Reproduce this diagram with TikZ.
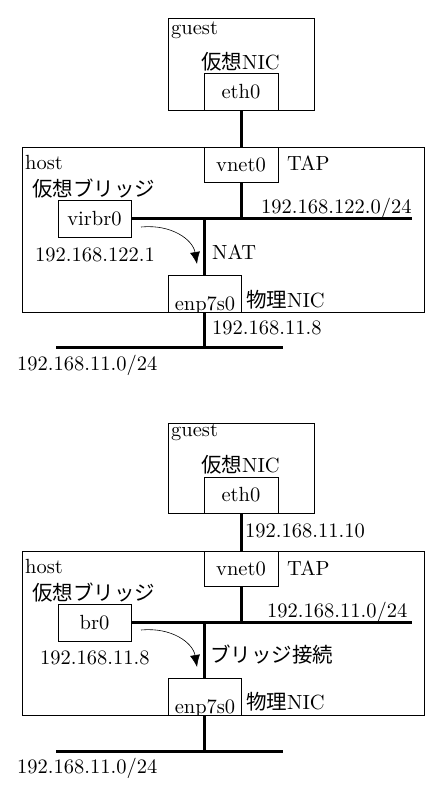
\documentclass[tikz,border=0pt]{standalone}
\usepackage{fontspec}
\setmainfont{lmroman10-regular}[Extension=.otf]
\newfontfamily\jp{Noto Sans CJK JP}
\usetikzlibrary{arrows.meta}
\tikzset{
  lbl/.style={inner sep=0pt, font=\fontsize{20.5}{24}\selectfont},
  boxnode/.style={draw, line width=0.8pt, inner sep=0pt, font=\fontsize{20.5}{24}\selectfont},
  wire/.style={line width=3pt},
  flow/.style={line width=0.6pt, -{Latex[length=12pt,width=10pt]}}
}
\begin{document}
\begin{tikzpicture}[x=1pt,y=-1pt]
\useasboundingbox (0,0) rectangle (445,786);
% ================= top =================
\node[boxnode, minimum width=146pt, minimum height=92pt] (guestA) at (241,64) {};
\node[boxnode, minimum width=402pt, minimum height=165pt] (hostA) at (223,229.5) {};
\node[boxnode, minimum width=74pt, minimum height=37pt] (ethA) at (241,91.5) {eth0};
\node[boxnode, minimum width=74pt, minimum height=35pt] (vnetA) at (241,164.5) {vnet0};
\node[boxnode, minimum width=73pt, minimum height=37pt] (virA) at (94.5,218.5) {virbr0};
\node[boxnode, minimum width=73pt, minimum height=37pt] (enpA) at (204.5,293.5) {};
\begin{scope}
\clip (enpA.south west) rectangle (enpA.north east);
\node[lbl, anchor=base] (enpAt) at (205,310.5) {enp7s0};
\end{scope}
\coordinate (busA) at (412,220);
\coordinate (lanAL) at (56,347);
\coordinate (lanAR) at (283,347);
\draw[wire] (ethA.south) -- (vnetA.north);
\draw[wire] (vnetA.south) -- (vnetA.south |- busA);
\draw[wire] (virA.east) -- (virA.east -| busA);
\draw[wire] (enpA.north |- busA) -- (enpA.north);
\draw[wire] (enpA.south) -- (enpA.south |- lanAL);
\draw[wire] (lanAL) -- (lanAR);
\coordinate (arA1) at (141,227);
\coordinate (arA2) at (197,264);
\draw[flow] (arA1) .. controls (172,224) and (193,240) .. (arA2);
\node[lbl, anchor=west] (gA) at (171,30) {guest};
\node[lbl] (vnicA) at (240.5,62) {{\jp 仮想}NIC};
\node[lbl, anchor=west] (hA) at (25,163) {host};
\node[lbl, anchor=west] (tapA) at (287,163) {TAP};
\node[lbl, anchor=west] (vbA) at (32,189) {\jp 仮想ブリッジ};
\node[lbl, anchor=west] (netA) at (261,208) {192.168.122.0/24};
\node[lbl, anchor=west] (ipvA) at (35,255) {192.168.122.1};
\node[lbl, anchor=west] (natA) at (212,252) {NAT};
\node[lbl, anchor=west] (pnA) at (246,300) {{\jp 物理}NIC};
\node[lbl, anchor=west] (ipeA) at (212,328) {192.168.11.8};
\node[lbl, anchor=west] (lanAt) at (17,365) {192.168.11.0/24};
% ================= bottom =================
\node[boxnode, minimum width=146pt, minimum height=90pt] (guestB) at (241,468) {};
\node[boxnode, minimum width=402pt, minimum height=164pt] (hostB) at (223,633) {};
\node[boxnode, minimum width=74pt, minimum height=36pt] (ethB) at (241,495) {eth0};
\node[boxnode, minimum width=74pt, minimum height=35pt] (vnetB) at (241,568.5) {vnet0};
\node[boxnode, minimum width=73pt, minimum height=37pt] (brB) at (94.5,622.5) {br0};
\node[boxnode, minimum width=73pt, minimum height=37pt] (enpB) at (204.5,696.5) {};
\begin{scope}
\clip (enpB.south west) rectangle (enpB.north east);
\node[lbl, anchor=base] (enpBt) at (205,713.5) {enp7s0};
\end{scope}
\coordinate (busB) at (412,623);
\coordinate (lanBL) at (56,751);
\coordinate (lanBR) at (283,751);
\draw[wire] (ethB.south) -- (vnetB.north);
\draw[wire] (vnetB.south) -- (vnetB.south |- busB);
\draw[wire] (brB.east) -- (brB.east -| busB);
\draw[wire] (enpB.north |- busB) -- (enpB.north);
\draw[wire] (enpB.south) -- (enpB.south |- lanBL);
\draw[wire] (lanBL) -- (lanBR);
\coordinate (arB1) at (141,630);
\coordinate (arB2) at (197,667);
\draw[flow] (arB1) .. controls (172,627) and (193,643) .. (arB2);
\node[lbl, anchor=west] (gB) at (171,432) {guest};
\node[lbl] (vnicB) at (240.5,465) {{\jp 仮想}NIC};
\node[lbl, anchor=west] (ipgB) at (245,531) {192.168.11.10};
\node[lbl, anchor=west] (hB) at (25,566) {host};
\node[lbl, anchor=west] (tapB) at (287,568) {TAP};
\node[lbl, anchor=west] (vbB) at (32,593) {\jp 仮想ブリッジ};
\node[lbl, anchor=west] (netB) at (267,612) {192.168.11.0/24};
\node[lbl, anchor=west] (ipvB) at (40,658) {192.168.11.8};
\node[lbl, anchor=west] (bcB) at (210,655) {\jp ブリッジ接続};
\node[lbl, anchor=west] (pnB) at (246,702) {{\jp 物理}NIC};
\node[lbl, anchor=west] (lanBt) at (17,768) {192.168.11.0/24};
\end{tikzpicture}
\end{document}
